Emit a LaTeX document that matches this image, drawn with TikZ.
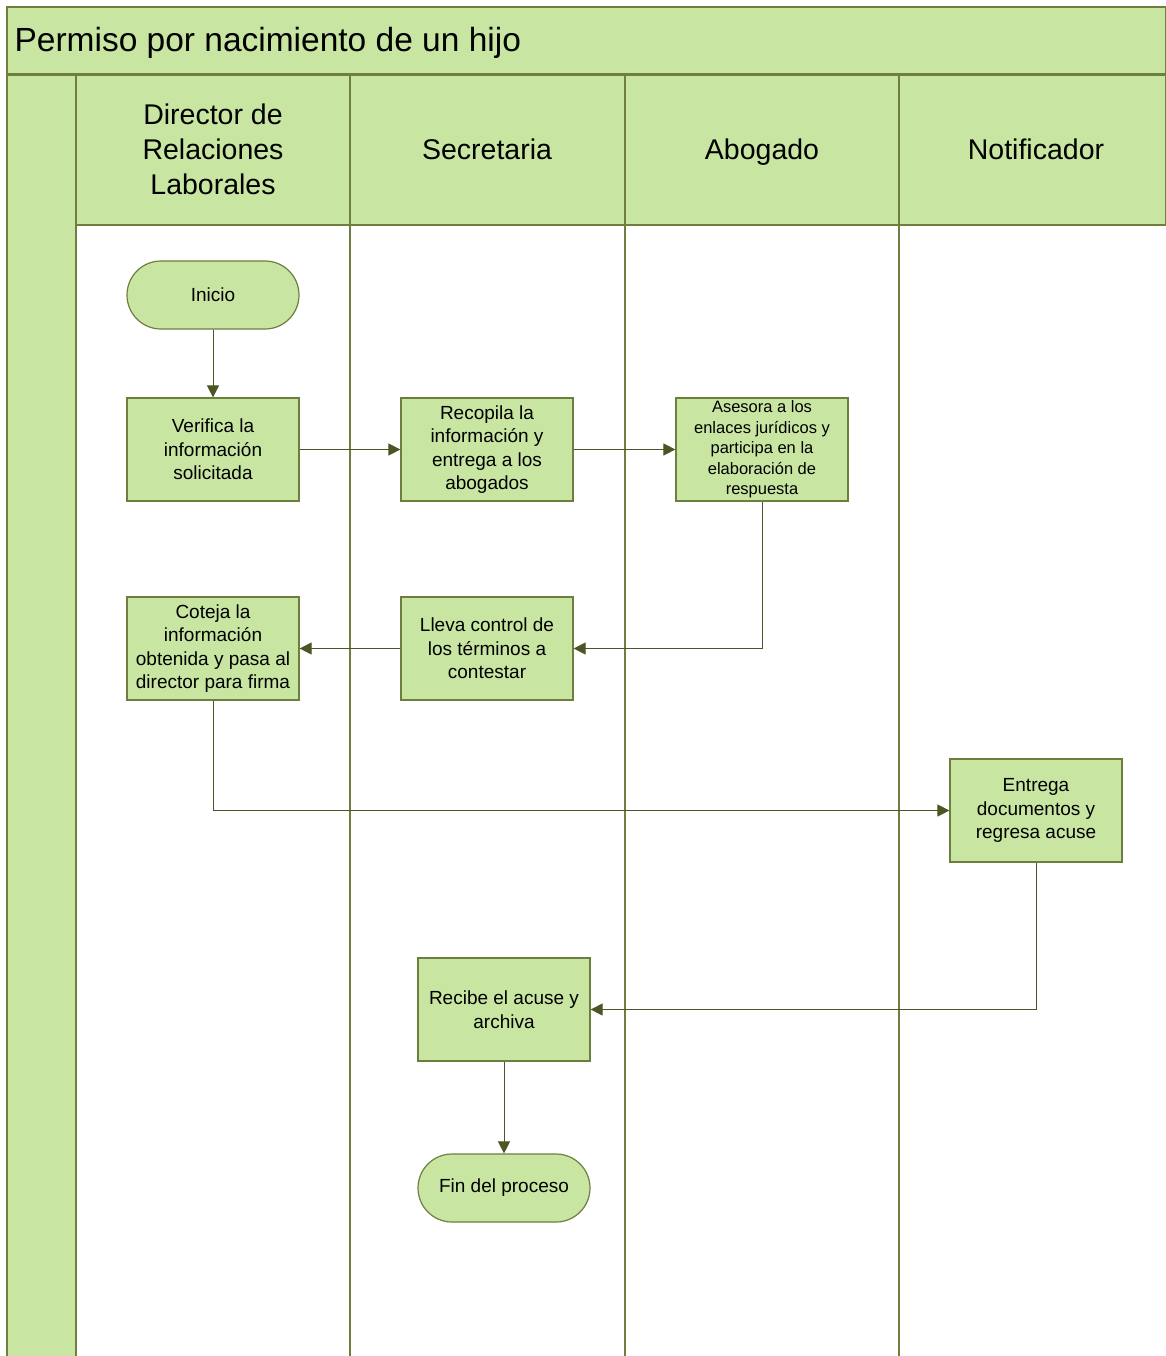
\documentclass[tikz,border=0pt]{standalone}
\usepackage{fontspec}
\setmainfont{Liberation Sans}
\usetikzlibrary{arrows.meta}
\definecolor{lanegreen}{RGB}{200,230,162}
\definecolor{laneline}{RGB}{110,126,62}
\definecolor{arrowc}{RGB}{74,86,38}
\begin{document}
\begin{tikzpicture}[x=1pt,y=-1pt,
  lanebox/.style={fill=lanegreen,draw=laneline,line width=1.2pt},
  procbox/.style={rectangle,fill=lanegreen,draw=laneline,line width=1.2pt,minimum width=172pt,minimum height=103pt,inner sep=0pt,align=center,font=\fontsize{19}{23.5}\selectfont},
  smallbox/.style={procbox,font=\fontsize{16.5}{20.5}\selectfont},
  termbox/.style={rectangle,rounded corners=34pt,fill=lanegreen,draw=laneline,line width=1.2pt,minimum width=172pt,minimum height=68pt,inner sep=0pt,align=center,font=\fontsize{19}{23.5}\selectfont},
  header/.style={align=center,font=\fontsize{28.5}{35}\selectfont},
  oneline/.style={header,text height=21pt,text depth=0pt},
  flow/.style={draw=arrowc,line width=1pt,-{Triangle[length=12pt,width=12pt]}}
]
\useasboundingbox (0,0) rectangle (1166,1356);
\fill[white] (0,0) rectangle (1166,1356);
% title bar
\draw[lanebox] (7,7) rectangle (1166,74);
\node[anchor=west,font=\fontsize{33.5}{40}\selectfont] (title) at (11,43) {Permiso por nacimiento de un hijo};
% left strip and header band
\draw[lanebox] (7,75) rectangle (76,1360);
\draw[lanebox] (76,75) rectangle (1166,225);
% lane dividers
\foreach \xx in {76,350,625,899}{
  \draw[draw=laneline,line width=1.2pt] (\xx,75) -- (\xx,1360);
}
% headers
\node[header] (h1) at (213,149) {Director de\\Relaciones\\Laborales};
\node[oneline] (h2) at (487,149) {Secretaria};
\node[oneline] (h3) at (762,149) {Abogado};
\node[oneline] (h4) at (1036,149) {Notificador};
% nodes
\node[termbox] (inicio) at (213,295) {Inicio};
\node[procbox] (verifica) at (213,449.5) {Verifica la\\información\\solicitada};
\node[procbox] (recopila) at (487,449.5) {Recopila la\\información y\\entrega a los\\abogados};
\node[smallbox] (asesora) at (762,449.5) {Asesora a los\\enlaces jurídicos y\\participa en la\\elaboración de\\respuesta};
\node[procbox] (coteja) at (213,648.5) {Coteja la\\información\\obtenida y pasa al\\director para firma};
\node[procbox] (lleva) at (487,648.5) {Lleva control de\\los términos a\\contestar};
\node[procbox] (entrega) at (1036,810.5) {Entrega\\documentos y\\regresa acuse};
\node[procbox] (recibe) at (504,1009.5) {Recibe el acuse y\\archiva};
\node[termbox] (fin) at (504,1188) {Fin del proceso};
% connectors
\draw[flow] (inicio) -- (verifica);
\draw[flow] (verifica) -- (recopila);
\draw[flow] (recopila) -- (asesora);
\draw[flow] (asesora.south) |- (lleva.east);
\draw[flow] (lleva) -- (coteja);
\draw[flow] (coteja.south) |- (entrega.west);
\draw[flow] (entrega.south) |- (recibe.east);
\draw[flow] (recibe) -- (fin);
\end{tikzpicture}
\end{document}
